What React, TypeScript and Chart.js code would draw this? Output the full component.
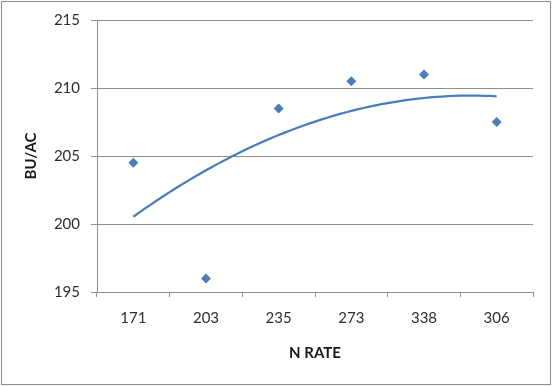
import React, { useEffect, useRef } from "react";
import { Chart, registerables } from "chart.js";

Chart.register(...registerables);

const categories: string[] = ["171", "203", "235", "273", "338", "306"];
const yieldValues: number[] = [204.5, 196, 208.5, 210.5, 211, 207.5];
const yTicks: number[] = [195, 200, 205, 210, 215];

// Polynomial (order 2) least-squares trendline fitted to the series, as Excel does.
function quadFit(ys: number[]): (x: number) => number {
  const n = ys.length;
  const xs = ys.map((_, i) => i + 1);
  let s = [0, 0, 0, 0, 0];
  let t = [0, 0, 0];
  for (let i = 0; i < n; i++) {
    const x = xs[i];
    for (let k = 0; k < 5; k++) s[k] += Math.pow(x, k);
    for (let k = 0; k < 3; k++) t[k] += ys[i] * Math.pow(x, k);
  }
  const A = [
    [s[0], s[1], s[2], t[0]],
    [s[1], s[2], s[3], t[1]],
    [s[2], s[3], s[4], t[2]],
  ];
  for (let c = 0; c < 3; c++) {
    for (let r = c + 1; r < 3; r++) {
      const f = A[r][c] / A[c][c];
      for (let k = c; k < 4; k++) A[r][k] -= f * A[c][k];
    }
  }
  const coef = [0, 0, 0];
  for (let r = 2; r >= 0; r--) {
    let v = A[r][3];
    for (let k = r + 1; k < 3; k++) v -= A[r][k] * coef[k];
    coef[r] = v / A[r][r];
  }
  return (x: number) => coef[0] + coef[1] * x + coef[2] * x * x;
}

const FONT = "Lato, 'Open Sans', sans-serif";
const TEXT = "#2e2e2e";
const GRID = "#8e8e8e";

export default function App() {
  const ref = useRef<HTMLCanvasElement | null>(null);

  useEffect(() => {
    document.body.style.margin = "0";
    const f = quadFit(yieldValues);
    const trend: { x: number; y: number }[] = [];
    const steps = 60;
    for (let i = 0; i <= steps; i++) {
      const x = 1 + ((categories.length - 1) * i) / steps;
      trend.push({ x, y: f(x) });
    }

    const borderPlugin = {
      id: "outerBorder",
      afterDraw(chart: any) {
        const ctx = chart.ctx;
        ctx.save();
        ctx.strokeStyle = "#8a8a8a";
        ctx.lineWidth = 1;
        ctx.strokeRect(1.5, 1.5, chart.width - 3, chart.height - 3);
        ctx.restore();
      },
    };

    const chart = new Chart(ref.current as HTMLCanvasElement, {
      type: "scatter",
      data: {
        labels: categories,
        datasets: [
          {
            type: "line",
            label: "BU/AC",
            data: yieldValues,
            xAxisID: "x",
            yAxisID: "y",
            showLine: false,
            pointStyle: "rectRot",
            pointRadius: 5,
            pointBackgroundColor: "#4A7EBB",
            pointBorderColor: "#4A7EBB",
            pointBorderWidth: 0,
            order: 1,
          } as any,
          {
            type: "line",
            label: "Trend",
            data: trend,
            xAxisID: "x2",
            yAxisID: "y",
            borderColor: "#4A7EBB",
            borderWidth: 2.25,
            pointRadius: 0,
            showLine: true,
            tension: 0,
            order: 2,
          } as any,
        ],
      },
      options: {
        animation: false,
        responsive: false,
        maintainAspectRatio: false,
        layout: { padding: { left: 22, right: 19, top: 19, bottom: 24 } },
        plugins: { legend: { display: false }, tooltip: { enabled: false } },
        scales: {
          x: {
            type: "category",
            labels: categories,
            offset: true,
            position: "bottom",
            grid: {
              offset: true,
              drawOnChartArea: false,
              drawTicks: true,
              tickLength: 5,
              color: GRID,
            },
            border: { color: GRID, width: 1 },
            ticks: {
              color: TEXT,
              font: { family: FONT, size: 15 },
              padding: 12,
              maxRotation: 0,
            },
            title: {
              display: true,
              text: "N RATE",
              color: "#1a1a1a",
              font: { family: FONT, size: 15, weight: "bold" },
              padding: 0,
            },
            afterFit: (scale: any) => {
              scale.height = 70;
            },
          },
          x2: {
            type: "linear",
            display: false,
            min: 0.5,
            max: categories.length + 0.5,
          },
          y: {
            type: "linear",
            min: yTicks[0],
            max: yTicks[yTicks.length - 1],
            afterBuildTicks: (scale: any) => {
              scale.ticks = yTicks.map((v) => ({ value: v }));
            },
            grid: { color: GRID, tickLength: 6, drawTicks: true },
            border: { color: GRID, width: 1 },
            ticks: {
              color: TEXT,
              font: { family: FONT, size: 15 },
              padding: 11,
            },
            title: {
              display: true,
              text: "BU/AC",
              color: "#1a1a1a",
              font: { family: FONT, size: 15, weight: "bold" },
              padding: 0,
            },
            afterFit: (scale: any) => {
              scale.width = 75;
            },
          },
        },
      } as any,
      plugins: [borderPlugin],
    });
    return () => chart.destroy();
  }, []);

  return (
    <div style={{ position: "relative", width: 552, height: 386, background: "#fff" }}>
      <canvas ref={ref} width={552} height={386} style={{ display: "block", width: 552, height: 386 }} />
    </div>
  );
}
